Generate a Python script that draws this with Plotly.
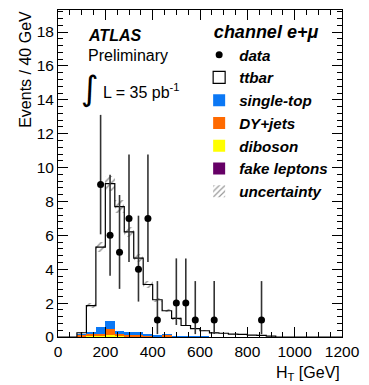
import numpy as np
import plotly.graph_objects as go

# ---- data ----
bin_edges = list(range(0, 1201, 40))          # 30 bins of 40 GeV
nb = 30
def pad(v):
    return list(v) + [0.0] * (nb - len(v))

fake_leptons = pad([0, 0, 0.02, 0.03, 0.03, 0.04, 0.03, 0.02, 0.02, 0.02, 0.01, 0.01, 0.01])
diboson      = pad([0, 0, 0.02, 0.03, 0.04, 0.05, 0.04, 0.03, 0.03, 0.02, 0.01, 0.01, 0.01, 0.01])
dy_jets      = pad([0, 0, 0.06, 0.10, 0.13, 0.38, 0.09, 0.07, 0.07, 0.06, 0.03, 0.10, 0.01, 0.01, 0.01])
single_top   = pad([0, 0, 0.12, 0.16, 0.37, 0.45, 0.21, 0.16, 0.16, 0.10, 0.07, 0.03, 0.05, 0.04, 0.03,
                    0.03, 0.02, 0.02, 0.01, 0.01])
ttbar        = pad([0, 0, 0.03, 1.53, 4.73, 8.13, 7.33, 5.92, 4.37, 2.90, 2.08, 1.40, 1.02, 0.62, 0.46,
                    0.34, 0.22, 0.20, 0.16, 0.14, 0.11, 0.10, 0.05])
uncertainty  = pad([0, 0, 0.05, 0.15, 0.30, 0.45, 0.38, 0.30, 0.25, 0.18, 0.12, 0.10, 0.08, 0.05, 0.04,
                    0.03, 0.03, 0.02, 0.02, 0.02, 0.02, 0.02, 0.01])

data_ht      = [180, 220, 260, 300, 340, 380, 420, 500, 540, 580, 660, 860]
data_events  = [9, 6, 5, 7, 4, 7, 1, 2, 2, 1, 1, 1]
data_err_up  = [4.11, 3.58, 3.38, 3.77, 3.16, 3.77, 2.30, 2.64, 2.64, 2.30, 2.30, 2.30]
data_err_dn  = [2.94, 2.38, 2.16, 2.58, 1.91, 2.58, 0.83, 1.29, 1.29, 0.83, 0.83, 0.83]

# ---- derived ----
edges = np.array(bin_edges, dtype=float)
centers = (edges[:-1] + edges[1:]) / 2
comps = [("fake leptons", fake_leptons, "#660066"),
         ("diboson", diboson, "#ffff00"),
         ("DY+jets", dy_jets, "#ff6a00"),
         ("single-top", single_top, "#0b78f5")]
rank = {"single-top": 3, "DY+jets": 4, "diboson": 5, "fake leptons": 6}

fig = go.Figure()
base = np.zeros(nb)
for name, vals, col in comps:
    v = np.array(vals)
    fig.add_trace(go.Bar(x=centers, y=v, base=base.copy(), width=40, name=name,
                         marker=dict(color=col, line=dict(width=0)),
                         legendrank=rank[name], showlegend=True))
    base = base + v
tt = np.array(ttbar)
fig.add_trace(go.Bar(x=centers, y=tt, base=base.copy(), width=40, name="ttbar",
                     marker=dict(color="white", line=dict(width=0)), showlegend=False))
total = base + tt
fig.add_trace(go.Bar(x=[None], y=[None], name="ttbar",
                     marker=dict(color="white", line=dict(color="black", width=1.2)),
                     legendrank=2))
unc = np.array(uncertainty)
fig.add_trace(go.Bar(x=centers, y=2 * unc, base=total - unc, width=40, name="uncertainty",
                     marker=dict(color="rgba(0,0,0,0)", line=dict(width=0),
                                 pattern=dict(shape="/", fgcolor="#333333", size=5, solidity=0.3)),
                     legendrank=7))
fig.add_trace(go.Scatter(x=edges, y=np.append(total, total[-1]), mode="lines",
                         line=dict(color="black", width=1.2, shape="hv"),
                         showlegend=False, hoverinfo="skip"))
fig.add_trace(go.Scatter(x=data_ht, y=data_events, mode="markers", name="data",
                         marker=dict(color="black", size=7),
                         error_y=dict(type="data", symmetric=False, array=data_err_up,
                                      arrayminus=data_err_dn, color="#333333",
                                      thickness=1.6, width=0),
                         legendrank=1))

fnt = "Liberation Sans, Arial, sans-serif"
fig.update_layout(
    width=369, height=385, barmode="overlay", bargap=0,
    margin=dict(l=58, r=21, t=9, b=48),
    paper_bgcolor="white", plot_bgcolor="white",
    font=dict(family=fnt, color="black"),
    legend=dict(x=0.497, y=0.985, xanchor="left", yanchor="top",
                bgcolor="rgba(0,0,0,0)", traceorder="normal",
                font=dict(size=15.2, family=fnt, style="italic", weight="bold"),
                title=dict(text="channel e+μ", side="top center",
                           font=dict(size=18, family=fnt, style="italic", weight="bold"))),
    xaxis=dict(range=[0, 1200], tickvals=[0, 200, 400, 600, 800, 1000, 1200],
               ticks="inside", ticklen=10, tickcolor="black", mirror="ticks",
               showline=True, linecolor="black", linewidth=1, showgrid=False, zeroline=False,
               tickfont=dict(size=15.5), minor=dict(dtick=50, ticks="inside", ticklen=5,
                                                  tickcolor="black")),
    yaxis=dict(range=[0, 19.3], tickvals=list(range(0, 19, 2)),
               ticks="inside", ticklen=10, tickcolor="black", mirror="ticks",
               showline=True, linecolor="black", linewidth=1, showgrid=False, zeroline=False,
               tickfont=dict(size=15.5), minor=dict(dtick=0.4, ticks="inside", ticklen=5,
                                                  tickcolor="black")),
)
ann = [
    dict(text="ATLAS", x=0.1, y=0.921, xanchor="left", yanchor="middle",
         font=dict(size=16, style="italic", weight="bold")),
    dict(text="Preliminary", x=0.1, y=0.860, xanchor="left", yanchor="middle",
         font=dict(size=16)),
    dict(text="∫", x=0.114, y=0.762, xanchor="center", yanchor="middle",
         font=dict(size=34, family="DejaVu Sans")),
    dict(text="L = 35 pb<sup>-1</sup>", x=0.151, y=0.753, xanchor="left", yanchor="middle",
         font=dict(size=16)),
    dict(text="Events / 40 GeV", x=-0.114, y=0.819, xanchor="center", yanchor="middle",
         textangle=-90, font=dict(size=16)),
    dict(text="H<sub>T</sub> [GeV]", x=1.0, y=-0.112, xanchor="right", yanchor="middle",
         font=dict(size=16)),
]
for a in ann:
    a.update(xref="paper", yref="paper", showarrow=False)
    fig.add_annotation(**a)

fig.write_html("out.html", config={"displayModeBar": False},
               post_script="document.body.style.margin='0';document.body.style.overflow='hidden';")
